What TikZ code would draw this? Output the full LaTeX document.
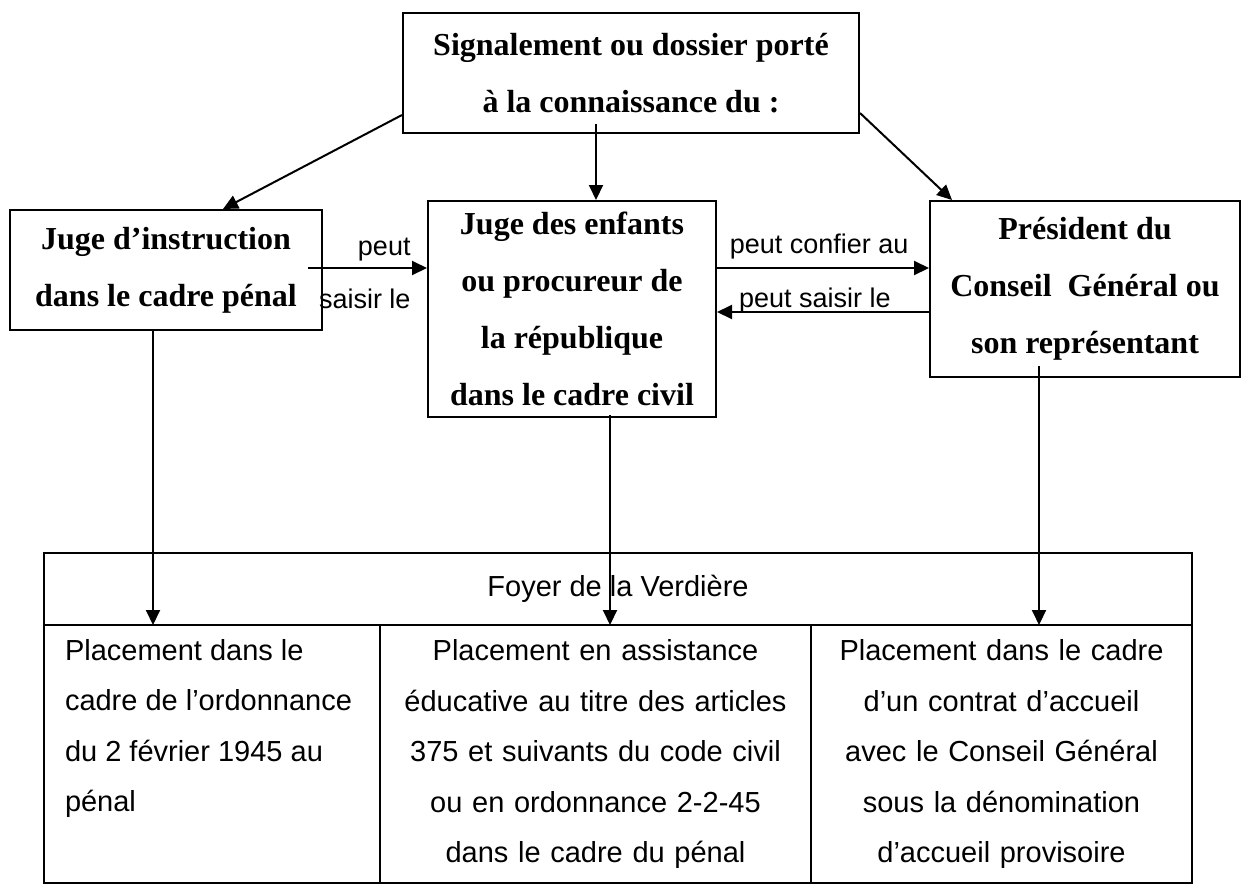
\documentclass[tikz,border=0pt]{standalone}
\usepackage{fontspec}
\setmainfont{Liberation Serif}
\newfontfamily\arialfont{Liberation Sans}
\usetikzlibrary{
  arrows.meta,
  positioning,
}
\tikzset{
  >={Triangle[width=14pt,length=15pt]},
}

\begin{document}
\begin{tikzpicture}[
      x=1pt, y=-1pt,
      line width=2pt,
      every node/.style={
        align=center,
        inner sep=0pt,
      },
      box/.style={draw,
        font=\bfseries\fontsize{32}{57}\selectfont,
      },
      lbl/.style={
        font=\arialfont\fontsize{27}{30}\selectfont,
      },
      cell/.style={draw,
        line width=1.5pt,
        outer sep=0pt,
        minimum height=258pt,
        font=\arialfont\fontsize{29}{50.5}\selectfont,
      },
      ]
      \useasboundingbox (0,0) rectangle (1244,884);
      \node[box, minimum width=456pt, minimum height=120pt] (signal) at (631,73)
        {Signalement ou dossier porté \\ à la connaissance du :};
      \node[box, minimum width=312pt, minimum height=120pt] (instr) at (166,270)
        {Juge d’instruction \\ dans le cadre pénal};
      \node[box, minimum width=288pt, minimum height=216pt] (enfants) at (572,309)
        {Juge des enfants \\ ou procureur de \\ la république \\ dans le cadre civil};
      \node[box, minimum width=310pt, minimum height=176pt] (president) at (1085,289)
        {Président du \\ Conseil\ \ Général ou \\ son représentant};

      % table of the foyer
      \node[cell, minimum width=1148pt, minimum height=72pt,
        font=\arialfont\fontsize{29}{34}\selectfont] (foyer) at (618,589)
        {Foyer de la Verdière};
      \node[cell, minimum width=336pt, below right=0pt of foyer.south west] (place-penal) {};
      \node[cell, minimum width=431pt, text width=420pt, right=0pt of place-penal] (place-civil)
        {Placement en assistance \\ éducative au titre des articles \\
         375 et suivants du code civil \\ ou en ordonnance 2-2-45 \\ dans le cadre du pénal};
      \node[cell, minimum width=381pt, text width=370pt, right=0pt of place-civil] (place-cg)
        {Placement dans le cadre \\ d’un contrat d’accueil \\ avec le Conseil Général \\
         sous la dénomination \\ d’accueil provisoire};
      \node[anchor=north west, align=left, font=\arialfont\fontsize{29}{50.5}\selectfont]
        (penal-text) at ([xshift=20pt,yshift=-13pt]place-penal.north west)
        {Placement dans le \\ cadre de l’ordonnance \\ du 2 février 1945 au \\ pénal};

      \path[->]
      ([yshift=-42pt]signal.west) edge ([xshift=57pt]instr.north)
      ([xshift=-35pt,yshift=10pt]signal.south) edge ([xshift=24pt]enfants.north)
      ([yshift=-40pt]signal.east) edge ([xshift=-133pt]president.north)

      ([xshift=-15pt,yshift=2pt]instr.east) edge
        node[lbl, pos=0.87, anchor=base east, yshift=13pt] {peut}
        node[lbl, pos=0.87, anchor=base east, yshift=-40pt] {saisir le}
        ([yshift=2pt]instr.east -| enfants.west)
      ([yshift=21pt]president.west -| enfants.east) edge
        node[lbl, pos=0.056, anchor=base west, yshift=15pt] {peut confier au}
        ([yshift=21pt]president.west)
      ([yshift=-23pt]president.west) edge
        node[lbl, pos=0.9, anchor=base west, yshift=5pt] {peut saisir le}
        ([yshift=-23pt]president.west -| enfants.east)

      ([xshift=-13pt]instr.south) edge ([xshift=-13pt]instr.south |- foyer.south)
      ([xshift=38pt,yshift=3pt]enfants.south) edge ([xshift=38pt]enfants.south |- foyer.south)
      ([xshift=-46pt,yshift=12pt]president.south) edge ([xshift=-46pt]president.south |- foyer.south)
      ;
\end{tikzpicture}
\end{document}
